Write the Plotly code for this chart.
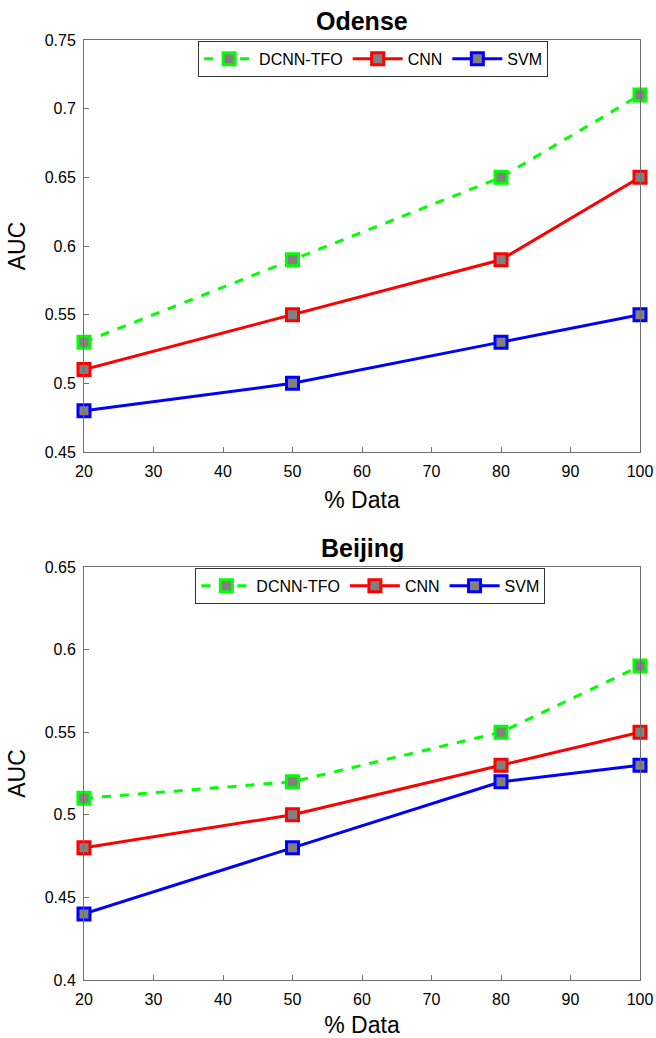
import plotly.graph_objects as go
from plotly.subplots import make_subplots

x_data = [20, 50, 80, 100]
series_names = ["DCNN-TFO", "CNN", "SVM"]
odense_dcnn = [0.53, 0.59, 0.65, 0.71]
odense_cnn = [0.51, 0.55, 0.59, 0.65]
odense_svm = [0.48, 0.50, 0.53, 0.55]
beijing_dcnn = [0.51, 0.52, 0.55, 0.59]
beijing_cnn = [0.48, 0.50, 0.53, 0.55]
beijing_svm = [0.44, 0.48, 0.52, 0.53]
x_ticks = [20, 30, 40, 50, 60, 70, 80, 90, 100]
odense_yticks = [0.45, 0.5, 0.55, 0.6, 0.65, 0.7, 0.75]
beijing_yticks = [0.4, 0.45, 0.5, 0.55, 0.6, 0.65]

colors = ["#00ff00", "#ff0000", "#0000ff"]
dashes = ["dash", "solid", "solid"]
FONT = "Liberation Sans, Arial, Helvetica, sans-serif"

fig = make_subplots(rows=2, cols=1, vertical_spacing=0.0)

top_h = 412 / 940
gap = 115 / 940

for row, data, leg in [(1, [odense_dcnn, odense_cnn, odense_svm], "legend"),
                       (2, [beijing_dcnn, beijing_cnn, beijing_svm], "legend2")]:
    for name, ys, c, d in zip(series_names, data, colors, dashes):
        fig.add_trace(go.Scatter(
            x=x_data, y=ys, name=name, mode="lines+markers",
            line=dict(color=c, width=3, dash=d),
            marker=dict(symbol="square", size=12, color="#808080",
                        line=dict(color=c, width=3)),
            cliponaxis=False, legend=leg,
        ), row=row, col=1)

axis_common = dict(showline=True, linecolor="#707070", linewidth=1, mirror=True,
                   ticks="inside", ticklen=5, tickcolor="#707070", showgrid=False,
                   zeroline=False, automargin=False,
                   tickfont=dict(family=FONT, size=16, color="black"))

fig.update_xaxes(range=[20, 100], tickvals=x_ticks, ticklabelstandoff=5, **axis_common,
                 title=dict(text="% Data", font=dict(family=FONT, size=23, color="black"), standoff=12))
fig.update_yaxes(ticklabelstandoff=4, **axis_common,
                 title=dict(text="AUC", font=dict(family=FONT, size=23, color="black"), standoff=12))
fig.update_yaxes(range=[0.45, 0.75], tickvals=odense_yticks, row=1, col=1)
fig.update_yaxes(range=[0.4, 0.65], tickvals=beijing_yticks, row=2, col=1)
fig.update_layout(yaxis=dict(domain=[1 - top_h, 1]), yaxis2=dict(domain=[0, 1 - top_h - gap]))

legend_common = dict(orientation="h", xanchor="center", yanchor="top",
                     bgcolor="white", bordercolor="#333", borderwidth=1,
                     font=dict(family=FONT, size=16, color="black"),
                     itemwidth=50, tracegroupgap=0)
fig.update_layout(
    width=656, height=1038,
    margin=dict(l=84, r=16, t=40, b=58, autoexpand=False),
    plot_bgcolor="white", paper_bgcolor="white",
    legend=dict(x=0.52, y=0.999, **legend_common),
    legend2=dict(x=0.515, y=1 - top_h - gap - 0.001, **legend_common),
    annotations=[
        dict(text="<b>Odense</b>", x=0.5, y=1, xref="paper", yref="paper", yanchor="bottom",
             showarrow=False, yshift=3, font=dict(family=FONT, size=25, color="black")),
        dict(text="<b>Beijing</b>", x=0.5, y=1 - top_h - gap, xref="paper", yref="paper",
             yanchor="bottom", showarrow=False, yshift=3, font=dict(family=FONT, size=25, color="black")),
    ],
)

fig.write_html("out.html", config={"displayModeBar": False},
               post_script="document.body.style.margin='0';document.body.style.overflow='hidden';")
